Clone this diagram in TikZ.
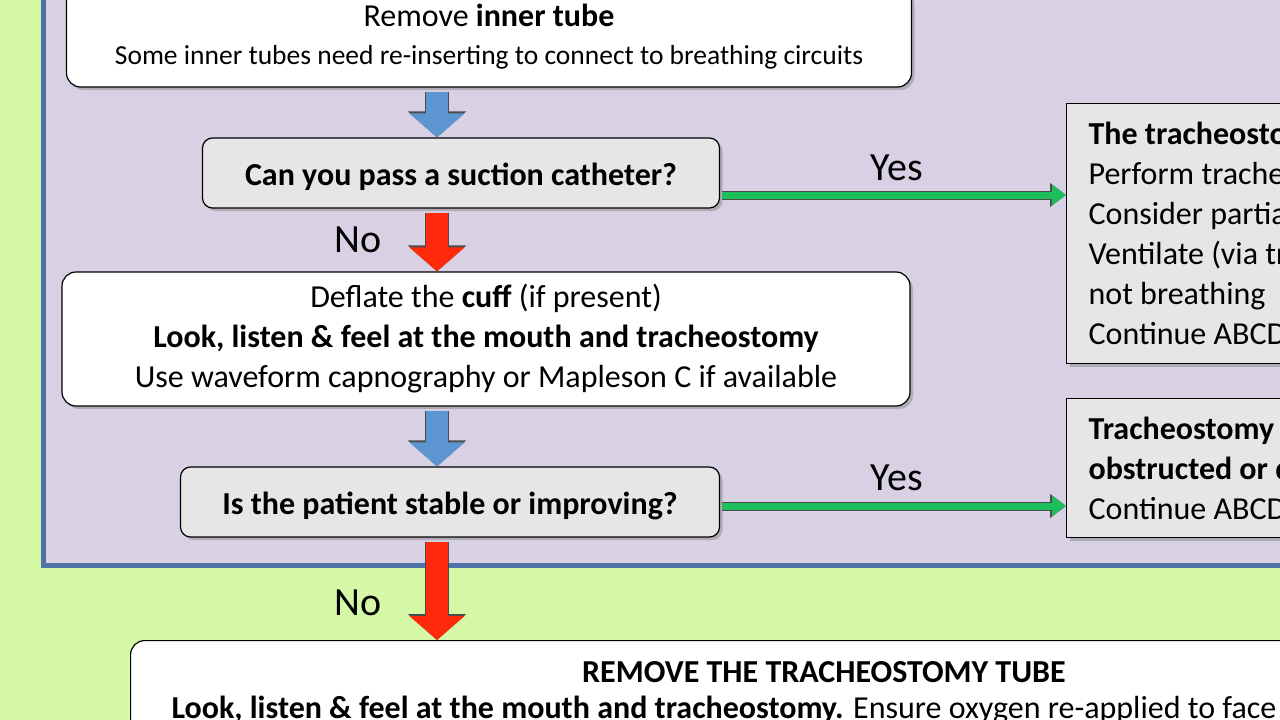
\documentclass[tikz,border=0pt]{standalone}
\usepackage{fontspec}
\setmainfont{Carlito}
\usetikzlibrary{arrows.meta,shadows}
\definecolor{bgGreen}{HTML}{D4F8A6}
\definecolor{panelLilac}{HTML}{D8D1E3}
\definecolor{panelBlue}{HTML}{4E73A6}
\definecolor{boxGray}{HTML}{E6E6E6}
\definecolor{arrBlue}{HTML}{5D95D0}
\definecolor{arrRed}{HTML}{FF2A0C}
\definecolor{arrGreen}{HTML}{1DBE5C}
\tikzset{
  box/.style={draw=black, line width=1.2pt, align=center, inner sep=0pt,
    drop shadow={shadow xshift=3pt, shadow yshift=-3pt, opacity=.45}},
  whitebox/.style={box, fill=white, rounded corners=14pt},
  graybox/.style={box, fill=boxGray, rounded corners=10pt},
  sidebox/.style={box, fill=boxGray, align=left, anchor=north west, inner xsep=22pt, inner ysep=0pt},
  big/.style={font=\fontsize{32}{40}\selectfont},
  fat/.style={line width=22pt, draw=#1, shorten <=4pt,
    -{Triangle[width=54pt,length=24pt,fill=#1]},
    preaction={draw=black!70, line width=24pt, -{Triangle[width=57pt,length=26pt]}}},
  thin/.style={line width=7pt, draw=arrGreen, shorten <=2pt,
    -{Triangle[width=20pt,length=14pt,fill=arrGreen]},
    preaction={draw=black!70, line width=9pt, -{Triangle[width=23pt,length=16pt]}}},
  lbl/.style={font=\fontsize{40}{40}\selectfont}
}
\begin{document}
\begin{tikzpicture}[x=1pt,y=-1pt]
 \useasboundingbox (0,0) rectangle (1280,720);
 \begin{scope}
  \clip (0,0) rectangle (1280,720);
  \fill[bgGreen] (0,0) rectangle (1280,720);
  \fill[panelLilac] (43,-20) rectangle (1300,565);
  \draw[panelBlue, line width=5pt] (43,-20) -- (43,565) -- (1300,565);
  % main column
  \node (inner) [whitebox, minimum width=845pt, minimum height=100pt, font=\fontsize{32}{38}\selectfont] at (489,37)
    {Remove \textbf{inner tube}\\
     {\fontsize{27.5}{30}\selectfont Some inner tubes need re-inserting to connect to breathing circuits}};
  \node (suction) [graybox, minimum width=517pt, minimum height=70pt, big, text depth=6pt, text height=30pt] at (461,173)
    {\bfseries Can you pass a suction catheter?};
  \node (cuff) [whitebox, minimum width=848pt, minimum height=134pt, big] at (486,339)
    {Deflate the \textbf{cuff} (if present)\\
     \textbf{Look, listen \& feel at the mouth and tracheostomy}\\
     Use waveform capnography or Mapleson C if available};
  \node (stable) [graybox, minimum width=539pt, minimum height=70pt, big, text depth=6pt, text height=30pt] at (450,502)
    {\bfseries Is the patient stable or improving?};
  \node (removal) [whitebox, minimum width=1200pt, minimum height=140pt, anchor=north west] at (130,640) {};
  \node (removeA) [big] at (824,672) {\bfseries REMOVE THE TRACHEOSTOMY TUBE};
  \node (removeB) [big, anchor=west] at (168,710)
    {\textbf{Look, listen \& feel at the mouth and tracheostomy.} Ensure oxygen re-applied to face and stoma};
  % right column
  \node (patent) [sidebox, minimum width=300pt, minimum height=260pt, big] at (1066,103)
    {\textbf{The tracheostomy tube is patent}\\
     Perform tracheal suction\\
     Consider partial obstruction\\
     Ventilate (via tracheostomy) if\\
     not breathing\\
     Continue ABCDE};
  \node (partial) [sidebox, minimum width=300pt, minimum height=139pt, big] at (1066,398)
    {\textbf{Tracheostomy tube partially}\\
     \textbf{obstructed or displaced}\\
     Continue ABCDE};
  % arrows
  \coordinate (axis) at (437,0);
  \coordinate (yes1) at (1066,195);
  \coordinate (yes2) at (1066,506);
  \draw[fat=arrBlue] (inner.south -| axis) -- (suction.north -| axis);
  \draw[fat=arrRed] (suction.south -| axis) -- (cuff.north -| axis);
  \draw[fat=arrBlue] (cuff.south -| axis) -- (stable.north -| axis);
  \draw[fat=arrRed] (stable.south -| axis) -- (removal.north -| axis);
  \draw[thin] (suction.east |- yes1) -- (yes1);
  \draw[thin] (stable.east |- yes2) -- (yes2);
  \node (yesA) [lbl] at (897,168) {Yes};
  \node (yesB) [lbl] at (897,478) {Yes};
  \node (noA) [lbl] at (358,240) {No};
  \node (noB) [lbl] at (358,603) {No};
 \end{scope}
\end{tikzpicture}
\end{document}
